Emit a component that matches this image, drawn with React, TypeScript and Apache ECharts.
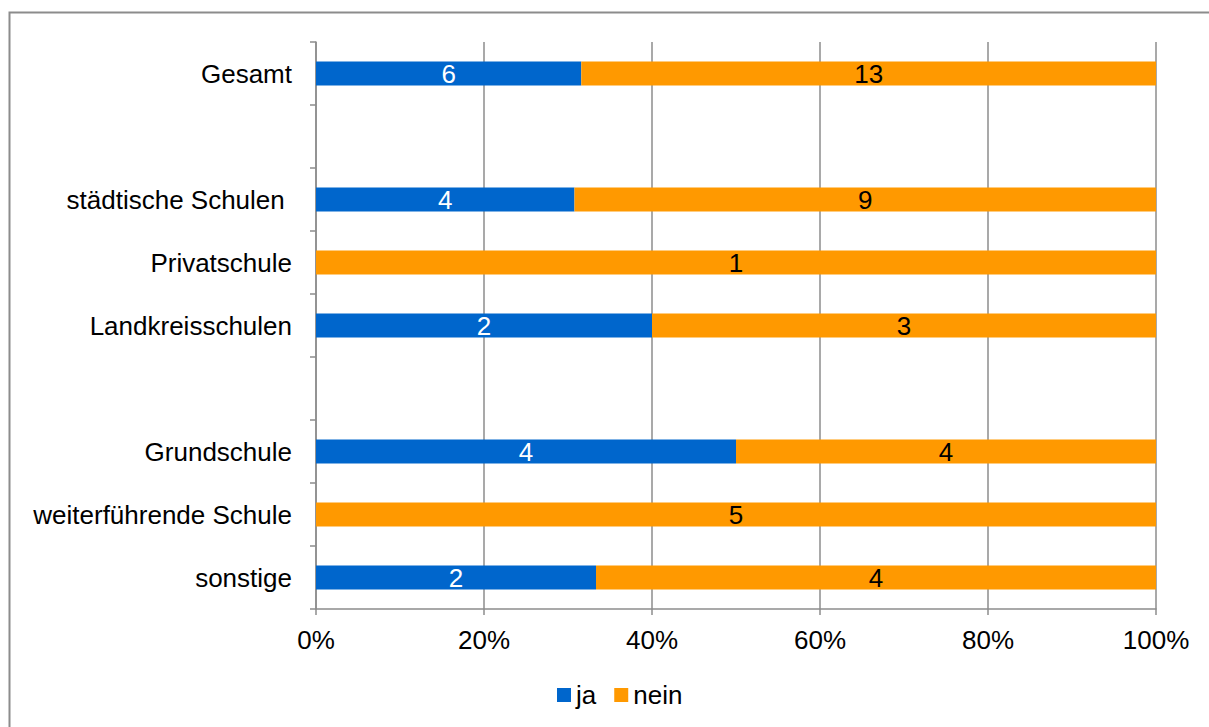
import React, { useEffect, useRef } from "react";
import * as echarts from "echarts";

// Rows from top to bottom; empty strings are spacer rows between groups
const categories = [
  "Gesamt",
  "",
  "städtische Schulen ",
  "Privatschule",
  "Landkreisschulen",
  " ",
  "Grundschule",
  "weiterführende Schule",
  "sonstige",
];
const jaCounts: (number | null)[] = [6, null, 4, 0, 2, null, 4, 0, 2];
const neinCounts: (number | null)[] = [13, null, 9, 1, 3, null, 4, 5, 4];
const xTicks = [0, 0.2, 0.4, 0.6, 0.8, 1];

const FONT = "'Liberation Sans', Arial, sans-serif";
const FS = 26;

export default function App() {
  const ref = useRef<HTMLDivElement>(null);

  useEffect(() => {
    if (!ref.current) return;
    const chart = echarts.init(ref.current, undefined, { renderer: "svg" });

    const share = (counts: (number | null)[]) =>
      counts.map((c, i) => {
        const a = jaCounts[i];
        const b = neinCounts[i];
        if (c === null || a === null || b === null) return null;
        return c / (a + b);
      });

    const labelFor = (counts: (number | null)[], color: string) => ({
      show: true,
      position: "inside" as const,
      color,
      fontFamily: FONT,
      fontSize: FS,
      formatter: (p: any) => {
        const c = counts[p.dataIndex];
        return c ? String(c) : "";
      },
    });

    chart.setOption({
      animation: false,
      backgroundColor: "#ffffff",
      graphic: [
        {
          type: "rect",
          shape: { x: 9.5, y: 12.5, width: 1210, height: 730 },
          style: { fill: "none", stroke: "#8c8c8c", lineWidth: 2 },
          silent: true,
        },
      ],
      grid: { left: 316, right: 53, top: 42, bottom: 118, containLabel: false },
      legend: {
        left: 557,
        top: 682,
        padding: 0,
        itemWidth: 14,
        itemHeight: 14,
        itemGap: 18,
        icon: "rect",
        textStyle: { fontFamily: FONT, fontSize: FS, color: "#000" },
        data: ["ja", "nein"],
      },
      xAxis: {
        type: "value",
        min: xTicks[0],
        max: xTicks[xTicks.length - 1],
        interval: 0.2,
        axisLine: { show: true, lineStyle: { color: "#8c8c8c", width: 1.5 } },
        axisTick: { show: true, length: 6, lineStyle: { color: "#8c8c8c", width: 1.5 } },
        splitLine: { show: true, lineStyle: { color: "#8c8c8c", width: 1.5 } },
        axisLabel: {
          margin: 18,
          fontFamily: FONT,
          fontSize: FS,
          color: "#000",
          formatter: (v: number) => `${Math.round(v * 100)}%`,
        },
      },
      yAxis: {
        type: "category",
        inverse: true,
        data: categories,
        axisLine: { show: true, lineStyle: { color: "#8c8c8c", width: 1.5 } },
        axisTick: { show: true, length: 6, inside: false, lineStyle: { color: "#8c8c8c", width: 1.5 } },
        axisLabel: { margin: 24, fontFamily: FONT, fontSize: FS, color: "#000" },
        splitLine: { show: false },
      },
      series: [
        {
          name: "ja",
          type: "bar",
          stack: "total",
          barWidth: 24,
          itemStyle: { color: "#0066cc" },
          label: labelFor(jaCounts, "#ffffff"),
          data: share(jaCounts),
        },
        {
          name: "nein",
          type: "bar",
          stack: "total",
          barWidth: 24,
          itemStyle: { color: "#ff9900" },
          label: labelFor(neinCounts, "#000000"),
          data: share(neinCounts),
        },
      ],
    });

    return () => chart.dispose();
  }, []);

  return (
    <div
      ref={ref}
      style={{ position: "fixed", left: 0, top: 0, width: 1209, height: 727 }}
    />
  );
}
